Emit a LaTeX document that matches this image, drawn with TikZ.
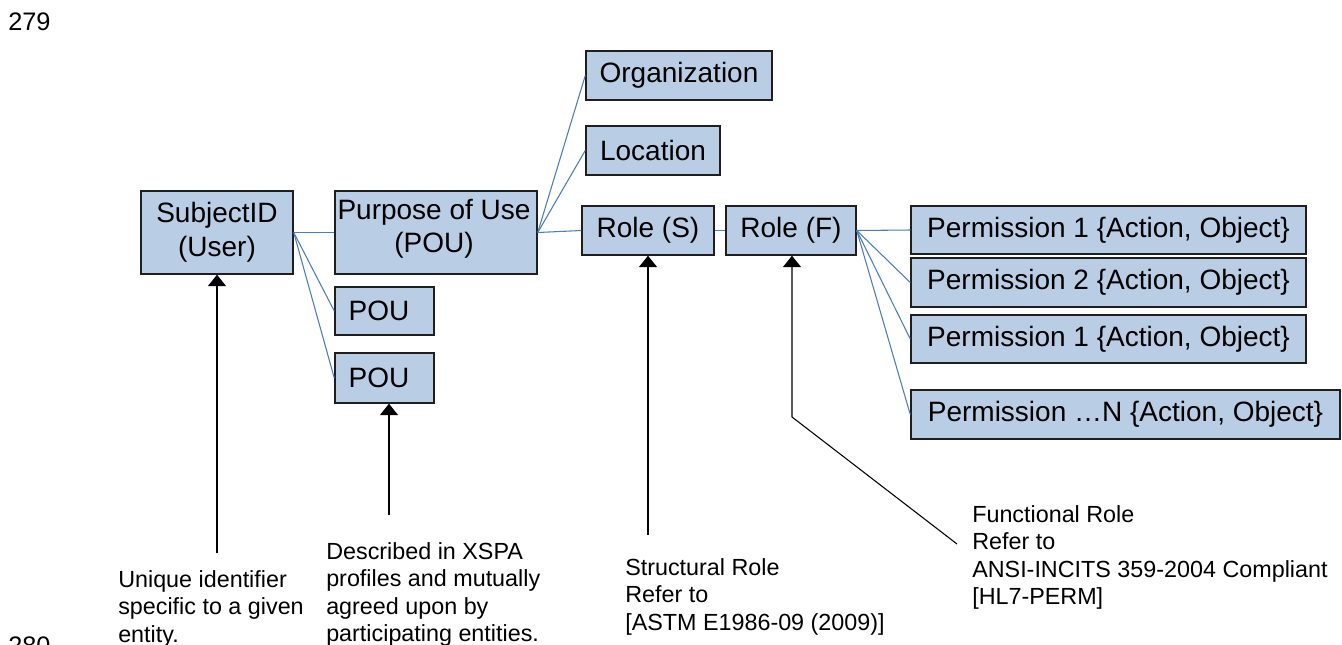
\documentclass[tikz,border=0pt]{standalone}
\usepackage{fontspec}
\setmainfont{Liberation Sans}
\usetikzlibrary{arrows.meta}
\definecolor{boxfill}{HTML}{B9CDE5}
\definecolor{boxline}{HTML}{1F1F1F}
\definecolor{linkc}{HTML}{4A7EBB}
\begin{document}
\begin{tikzpicture}[x=0.75pt,y=-0.75pt,
  box/.style={draw=boxline, fill=boxfill, line width=1.1pt, inner sep=0pt,
    font=\fontsize{21pt}{25.2pt}\selectfont, align=center},
  btext/.style={inner sep=0pt, font=\fontsize{21pt}{25.2pt}\selectfont, align=center},
  link/.style={draw=linkc, line width=0.8pt},
  arr/.style={draw=black, line width=0.8pt, -{Triangle[width=13.5pt,length=8.5pt]}},
  note/.style={inner sep=0pt, font=\fontsize{17.5pt}{20.7pt}\selectfont, align=left, anchor=north west},
  pagenum/.style={inner sep=0pt, font=\fontsize{19pt}{22pt}\selectfont, anchor=base west}]
\useasboundingbox (0,0) rectangle (1342,644);

% page numbers
\node[pagenum] (n279) at (8,30) {279};
\node[pagenum] (n280) at (8,654) {280};

% boxes
\node[box, minimum width=114pt, minimum height=62.25pt] (subj) at (217,232.5) {SubjectID\\(User)};
\node[box, minimum width=151.5pt, minimum height=62.25pt] (pur) at (436,232.5) {};
\node[btext, anchor=north] (purt) at (434,198.5) {Purpose of Use\\(POU)};
\node[box, minimum width=74.25pt, minimum height=36pt] (pou1) at (384.5,311) {};
\node[btext] (pou1t) at (379,311) {POU};
\node[box, minimum width=74.25pt, minimum height=37.5pt] (pou2) at (384.5,378) {};
\node[btext] (pou2t) at (379,378) {POU};
\node[box, minimum width=139.5pt, minimum height=36.75pt] (org) at (679,75.5) {Organization};
\node[box, minimum width=100.5pt, minimum height=36.75pt] (loc) at (653,150.5) {Location};
\node[box, minimum width=99pt, minimum height=36.75pt] (roleS) at (648,230.5) {Role (S)};
\node[box, minimum width=97.5pt, minimum height=36.75pt] (roleF) at (791,230.5) {Role (F)};
\node[box, minimum width=296.25pt, minimum height=36pt] (p1) at (1108.5,230) {Permission 1 \{Action, Object\}};
\node[box, minimum width=296.25pt, minimum height=36.75pt] (p2) at (1108.5,282.5) {Permission 2 \{Action, Object\}};
\node[box, minimum width=296.25pt, minimum height=36pt] (p3) at (1108.5,339) {Permission 1 \{Action, Object\}};
\node[box, minimum width=321.75pt, minimum height=36.75pt] (pN) at (1125.5,414.5) {Permission \dots N \{Action, Object\}};

% blue connectors
\draw[link] (subj.east) -- (pur.west);
\draw[link] (subj.east) -- (pou1.west);
\draw[link] (subj.east) -- (pou2.west);
\draw[link] (pur.east) -- (org.west);
\draw[link] (pur.east) -- (loc.west);
\draw[link] (pur.east) -- (roleS.west);
\draw[link] (roleS.east) -- (roleF.west);
\draw[link] (roleF.east) -- (p1.west);
\draw[link] (roleF.east) -- (p2.west);
\draw[link] (roleF.east) -- (p3.west);
\draw[link] (roleF.east) -- (pN.west);

% annotation arrows
\coordinate (a1) at (217,553);
\coordinate (a2) at (389,515);
\coordinate (a3) at (648,535);
\coordinate (a4) at (957,544);
\coordinate (a4k) at (792,417);
\draw[arr] (a1) -- (subj.south);
\draw[arr] (a2) -- (a2 |- pou2.south);
\draw[arr] (a3) -- (roleS.south);
\draw[arr] (a4) -- (a4k) -- (a4k |- roleF.south);

% notes
\node[note] (t1) at (118,570) {Unique identifier\\specific to a given\\entity.};
\node[note] (t2) at (326,542) {Described in XSPA\\profiles and mutually\\agreed upon by\\participating entities.};
\node[note] (t3) at (625,558) {Structural Role\\Refer to\\{[ASTM E1986-09 (2009)]}};
\node[note] (t4) at (972,505) {Functional Role\\Refer to\\ANSI-INCITS 359-2004 Compliant\\{[HL7-PERM]}};
\end{tikzpicture}
\end{document}
